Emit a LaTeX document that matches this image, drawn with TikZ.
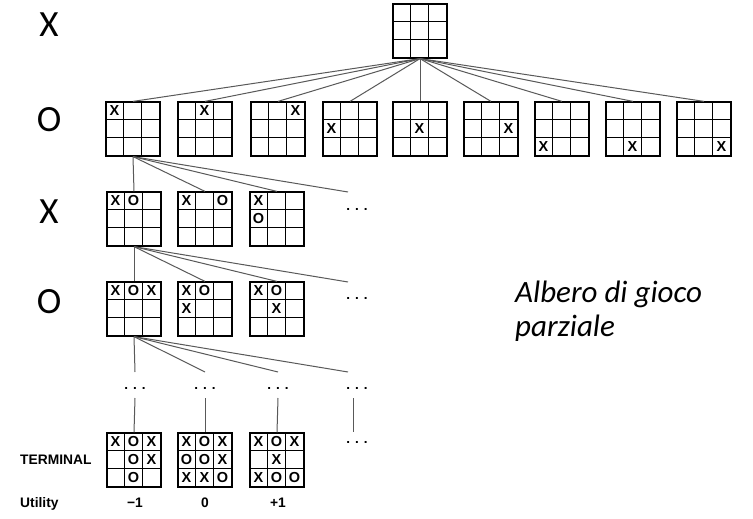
\documentclass[tikz,border=0pt]{standalone}
\usepackage{fontspec}
\setmainfont{Liberation Sans}
\newfontfamily\calib{Carlito}
\usetikzlibrary{calc}

\tikzset{
  board/.style={draw=black, line width=1.2pt, rectangle, minimum width=54pt, minimum height=54pt, inner sep=0pt},
  gridline/.style={draw=black, line width=1.2pt},
  cellmark/.style={inner sep=0pt, font=\bfseries\fontsize{14.5}{16}\selectfont},
  edge/.style={draw=black!65, line width=1pt},
  dotsnode/.style={inner sep=0pt, font=\bfseries\fontsize{13.5}{14}\selectfont},
  player/.style={inner sep=0pt, font=\calib\fontsize{37}{40}\selectfont},
  lbl/.style={inner sep=0pt, font=\bfseries\fontsize{13.8}{14}\selectfont},
}

\newcommand{\gridof}[1]{%
  \draw[gridline] ($(#1.north west)+(18,0)$) -- ($(#1.south west)+(18,0)$);
  \draw[gridline] ($(#1.north west)+(36,0)$) -- ($(#1.south west)+(36,0)$);
  \draw[gridline] ($(#1.north west)+(0,18)$) -- ($(#1.north east)+(0,18)$);
  \draw[gridline] ($(#1.north west)+(0,36)$) -- ($(#1.north east)+(0,36)$);
}
\newcommand{\mk}[4]{\node[cellmark] (#1-#2#3) at ($(#1.north west)+(#2*18-9,#3*18-9)$) {#4};}

\begin{document}
\begin{tikzpicture}[x=1pt,y=-1pt]
\useasboundingbox[fill=white] (0,0) rectangle (753,519);

% player labels
\node[player] (p1) at (49,25) {X};
\node[player] (p2) at (49,120) {O};
\node[player] (p3) at (49,212) {X};
\node[player] (p4) at (49,302) {O};

% root
\node[board] (r) at (420,31) {};
\gridof{r}

% level 1
\foreach \i/\x in {1/133,2/205,3/278,4/350,5/420,6/491,7/562,8/633,9/704}{
  \node[board] (a\i) at (\x,129) {};
  \gridof{a\i}
}
\mk{a1}{1}{1}{X}
\mk{a2}{2}{1}{X}
\mk{a3}{3}{1}{X}
\mk{a4}{1}{2}{X}
\mk{a5}{2}{2}{X}
\mk{a6}{3}{2}{X}
\mk{a7}{1}{3}{X}
\mk{a8}{2}{3}{X}
\mk{a9}{3}{3}{X}

% level 2
\foreach \i/\x in {1/134,2/205,3/277}{
  \node[board] (b\i) at (\x,219) {};
  \gridof{b\i}
}
\mk{b1}{1}{1}{X}\mk{b1}{2}{1}{O}
\mk{b2}{1}{1}{X}\mk{b2}{3}{1}{O}
\mk{b3}{1}{1}{X}\mk{b3}{1}{2}{O}
\node[dotsnode] (bd) at (357,209) {. . .};

% level 3
\foreach \i/\x in {1/134,2/205,3/277}{
  \node[board] (c\i) at (\x,309) {};
  \gridof{c\i}
}
\mk{c1}{1}{1}{X}\mk{c1}{2}{1}{O}\mk{c1}{3}{1}{X}
\mk{c2}{1}{1}{X}\mk{c2}{2}{1}{O}\mk{c2}{1}{2}{X}
\mk{c3}{1}{1}{X}\mk{c3}{2}{1}{O}\mk{c3}{2}{2}{X}
\node[dotsnode] (cd) at (357,298) {. . .};

% level 4 dots
\node[dotsnode] (d1) at (135,388) {. . .};
\node[dotsnode] (d2) at (205,388) {. . .};
\node[dotsnode] (d3) at (278,388) {. . .};
\node[dotsnode] (d4) at (357,388) {. . .};
\node[dotsnode] (d5) at (357,442) {. . .};

% terminal
\foreach \i/\x in {1/134,2/205,3/277}{
  \node[board] (t\i) at (\x,460) {};
  \gridof{t\i}
}
\mk{t1}{1}{1}{X}\mk{t1}{2}{1}{O}\mk{t1}{3}{1}{X}
\mk{t1}{2}{2}{O}\mk{t1}{3}{2}{X}
\mk{t1}{2}{3}{O}
\mk{t2}{1}{1}{X}\mk{t2}{2}{1}{O}\mk{t2}{3}{1}{X}
\mk{t2}{1}{2}{O}\mk{t2}{2}{2}{O}\mk{t2}{3}{2}{X}
\mk{t2}{1}{3}{X}\mk{t2}{2}{3}{X}\mk{t2}{3}{3}{O}
\mk{t3}{1}{1}{X}\mk{t3}{2}{1}{O}\mk{t3}{3}{1}{X}
\mk{t3}{2}{2}{X}
\mk{t3}{1}{3}{X}\mk{t3}{2}{3}{O}\mk{t3}{3}{3}{O}

% connectors
\foreach \i in {1,...,9}{ \draw[edge] (r.south) -- (a\i.north); }
\foreach \i in {1,2,3}{ \draw[edge] (a1.south) -- (b\i.north); }
\draw[edge] (a1.south) -- ($(bd.center)+(-9,-17)$);
\foreach \i in {1,2,3}{ \draw[edge] (b1.south) -- (c\i.north); }
\draw[edge] (b1.south) -- ($(cd.center)+(-9,-16)$);
\foreach \i in {1,2,3}{ \draw[edge] (c1.south) -- ($(d\i.center)+(0,-16)$); }
\draw[edge] (c1.south) -- ($(d4.center)+(-9,-16)$);
\foreach \i in {1,2,3}{ \draw[edge] ($(d\i.center)+(0,10)$) -- (t\i.north); }
\draw[edge] ($(d4.center)+(-4,10)$) -- ($(d5.center)+(-4,-10)$);

% labels
\node[lbl, anchor=west] (term) at (20,460) {TERMINAL};
\node[lbl, anchor=base west] (util) at (20,507) {Utility};
\node[lbl, anchor=base] (u1) at (135,507) {−1};
\node[lbl, anchor=base] (u2) at (205,507) {0};
\node[lbl, anchor=base] (u3) at (278,507) {+1};

% caption
\node[inner sep=0pt, anchor=base west, font=\calib\itshape\fontsize{31}{34}\selectfont] (cap1) at (515,302) {Albero di gioco};
\node[inner sep=0pt, anchor=base west, font=\calib\itshape\fontsize{31}{34}\selectfont] (cap2) at (515,336) {parziale};
\end{tikzpicture}
\end{document}
